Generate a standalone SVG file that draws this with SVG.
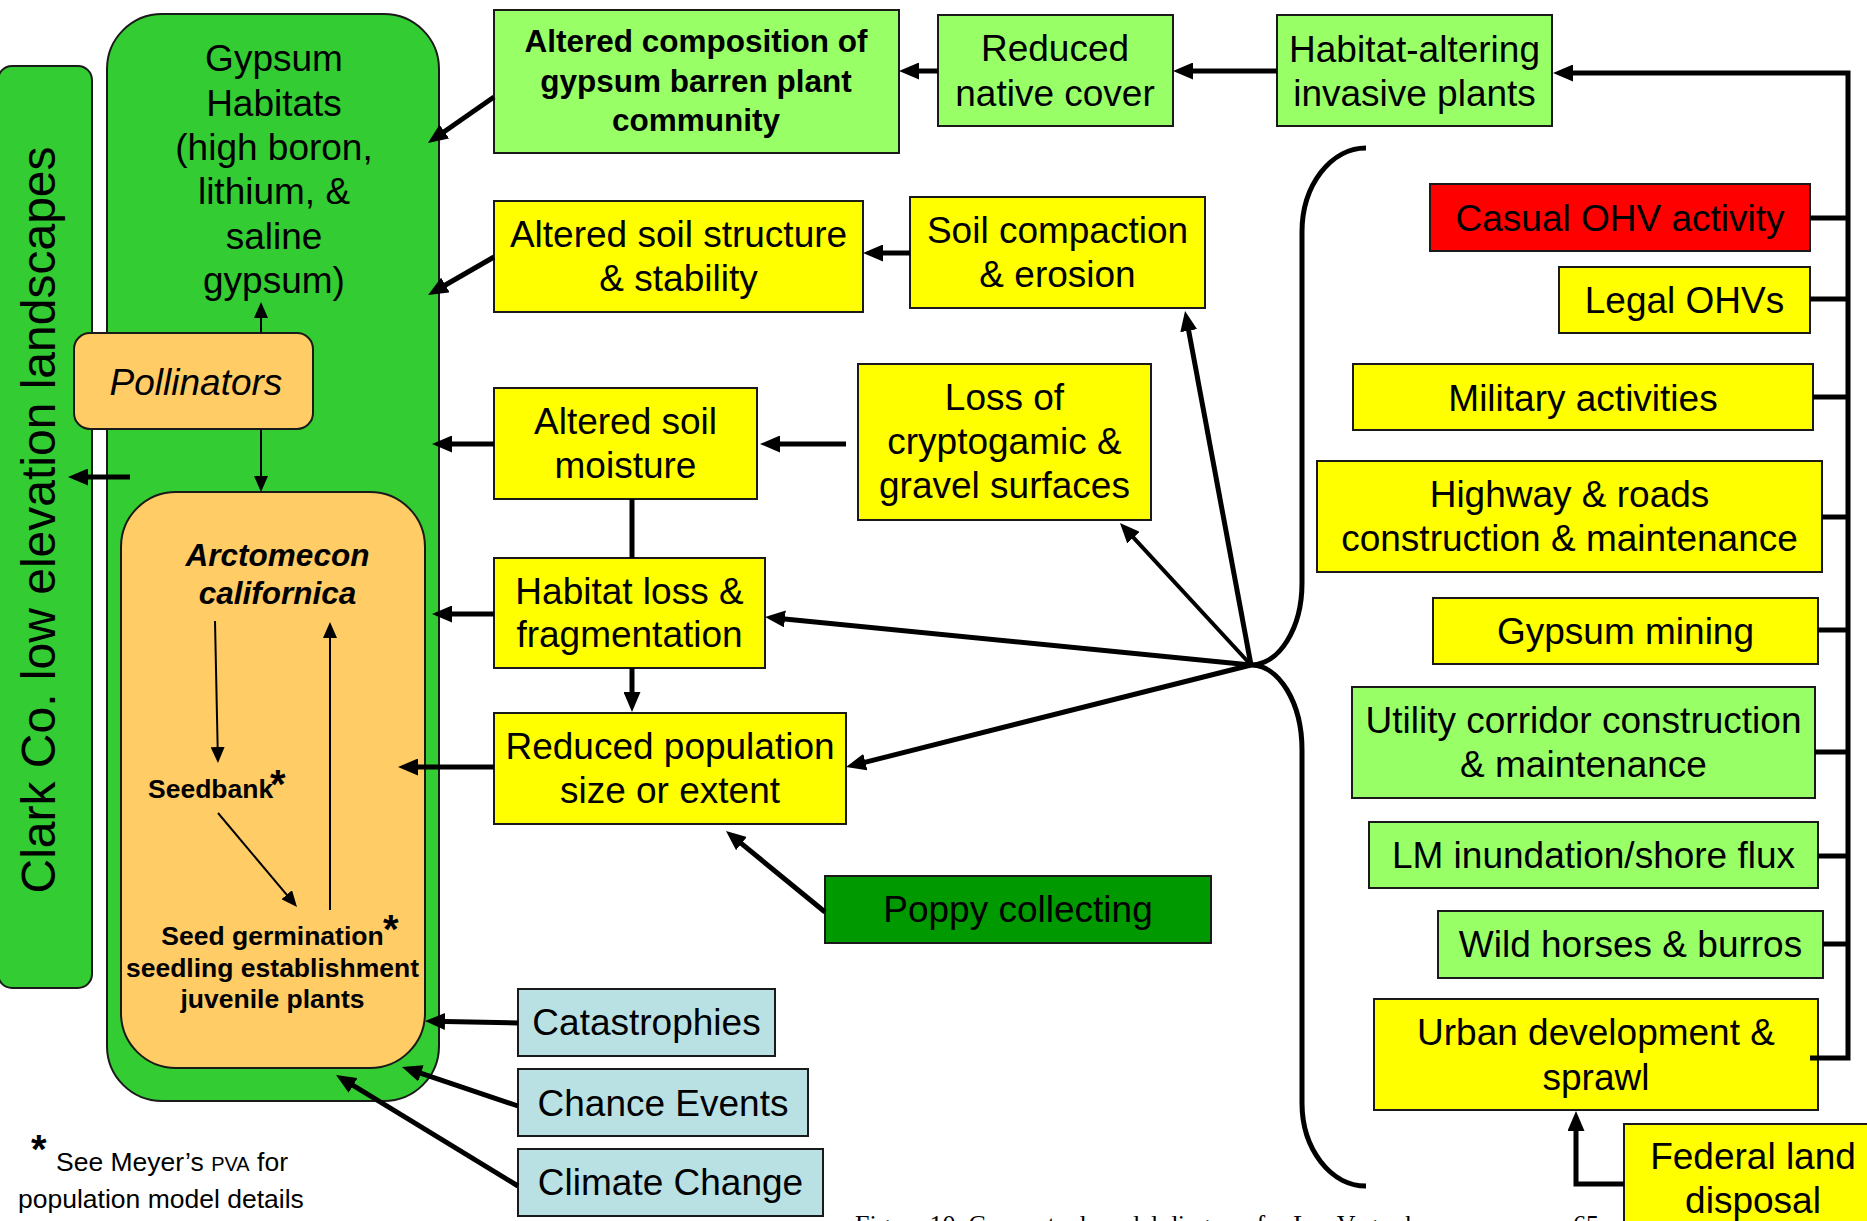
<svg xmlns="http://www.w3.org/2000/svg" width="1867" height="1221" viewBox="0 0 1867 1221">
<defs>
<style>
.n{stroke:#1a1a1a;stroke-width:2}
.yl{fill:#ffff00}.lg{fill:#99ff66}.rd{fill:#ff0000}.dg{fill:#009900}.bl{fill:#b9e1e4}.or{fill:#ffcc66}.gr{fill:#33cc33}
text{font-family:"Liberation Sans",Arial,sans-serif;fill:#000}
.t{font-size:37px;text-anchor:middle}
.b{font-size:31.5px;font-weight:bold;text-anchor:middle}
.s{font-size:26.5px;font-weight:bold}
.c{stroke:#000;stroke-width:5;fill:none}
.c2{stroke:#000;stroke-width:2;fill:none}
.ah{marker-end:url(#ah)}
.as{marker-end:url(#as)}
</style>
<marker id="ah" viewBox="0 0 20 17" refX="13" refY="8.5" markerWidth="20" markerHeight="17" orient="auto" markerUnits="userSpaceOnUse"><path d="M0,0 L20,8.5 L0,17 z" fill="#000"/></marker>
<marker id="as" viewBox="0 0 16 14" refX="12" refY="7" markerWidth="16" markerHeight="14" orient="auto" markerUnits="userSpaceOnUse"><path d="M0,0 L16,7 L0,14 z" fill="#000"/></marker>
</defs>
<rect width="1867" height="1221" fill="#fff"/>

<g id="clark">
<rect class="n gr" x="-2" y="66" width="94" height="922" rx="14"/>
<text transform="translate(55,520) rotate(-90)" font-size="48" text-anchor="middle">Clark Co. low elevation landscapes</text>
</g>
<g id="gypsum">
<rect class="n gr" x="107" y="14" width="332" height="1087" rx="55"/>
<text class="t" x="274" y="71">Gypsum</text>
<text class="t" x="274" y="115.5">Habitats</text>
<text class="t" x="274" y="160">(high boron,</text>
<text class="t" x="274" y="204">lithium, &amp;</text>
<text class="t" x="274" y="249">saline</text>
<text class="t" x="274" y="293">gypsum)</text>
</g>
<g id="pollinators">
<rect class="n or" x="74" y="333" width="239" height="96" rx="16"/>
<text class="t" x="196" y="395" font-style="italic">Pollinators</text>
</g>
<g id="arctomecon">
<rect class="n or" x="121" y="492" width="304" height="576" rx="55"/>
<text x="277.5" y="566" font-size="31.5" font-weight="bold" font-style="italic" text-anchor="middle">Arctomecon</text>
<text x="277.5" y="604" font-size="31.5" font-weight="bold" font-style="italic" text-anchor="middle">californica</text>
</g>
<g id="seedbank">
<text class="s" x="148" y="798">Seedbank</text>
<text x="270" y="798" font-size="40" font-weight="bold">*</text>
</g>
<g id="germination">
<text class="s" x="272.5" y="945" text-anchor="middle">Seed germination</text>
<text x="383" y="943" font-size="40" font-weight="bold">*</text>
<text class="s" x="272.5" y="977" text-anchor="middle">seedling establishment</text>
<text class="s" x="272.5" y="1008" text-anchor="middle">juvenile plants</text>
</g>

<g id="altered-composition">
<rect class="n lg" x="494" y="10" width="405" height="143"/>
<text class="b" x="696" y="52">Altered composition of</text>
<text class="b" x="696" y="92">gypsum barren plant</text>
<text class="b" x="696" y="131">community</text>
</g>
<g id="reduced-native">
<rect class="n lg" x="938" y="15" width="235" height="111"/>
<text class="t" x="1055" y="61">Reduced</text>
<text class="t" x="1055" y="106">native cover</text>
</g>
<g id="habitat-altering">
<rect class="n lg" x="1277" y="15" width="275" height="111"/>
<text class="t" x="1414.5" y="62">Habitat-altering</text>
<text class="t" x="1414.5" y="106">invasive plants</text>
</g>
<g id="altered-soil-structure">
<rect class="n yl" x="494" y="201" width="369" height="111"/>
<text class="t" x="678.5" y="247">Altered soil structure</text>
<text class="t" x="678.5" y="291">&amp; stability</text>
</g>
<g id="soil-compaction">
<rect class="n yl" x="910" y="197" width="295" height="111"/>
<text class="t" x="1057.5" y="243">Soil compaction</text>
<text class="t" x="1057.5" y="287">&amp; erosion</text>
</g>
<g id="altered-soil-moisture">
<rect class="n yl" x="494" y="388" width="263" height="111"/>
<text class="t" x="625.5" y="434">Altered soil</text>
<text class="t" x="625.5" y="478">moisture</text>
</g>
<g id="loss-cryptogamic">
<rect class="n yl" x="858" y="364" width="293" height="156"/>
<text class="t" x="1004.5" y="410">Loss of</text>
<text class="t" x="1004.5" y="454">cryptogamic &amp;</text>
<text class="t" x="1004.5" y="498">gravel surfaces</text>
</g>
<g id="habitat-loss">
<rect class="n yl" x="494" y="558" width="271" height="110"/>
<text class="t" x="629.5" y="604">Habitat loss &amp;</text>
<text class="t" x="629.5" y="647">fragmentation</text>
</g>
<g id="reduced-population">
<rect class="n yl" x="494" y="713" width="352" height="111"/>
<text class="t" x="670" y="759">Reduced population</text>
<text class="t" x="670" y="803">size or extent</text>
</g>
<g id="poppy-collecting">
<rect class="n dg" x="825" y="876" width="386" height="67"/>
<text class="t" x="1018" y="922">Poppy collecting</text>
</g>
<g id="catastrophies">
<rect class="n bl" x="518" y="989" width="257" height="67"/>
<text class="t" x="646.5" y="1035">Catastrophies</text>
</g>
<g id="chance-events">
<rect class="n bl" x="518" y="1069" width="290" height="67"/>
<text class="t" x="663" y="1116">Chance Events</text>
</g>
<g id="climate-change">
<rect class="n bl" x="518" y="1149" width="305" height="67"/>
<text class="t" x="670.5" y="1195">Climate Change</text>
</g>

<g id="casual-ohv">
<rect class="n rd" x="1430" y="184" width="380" height="67"/>
<text class="t" x="1620" y="231">Casual OHV activity</text>
</g>
<g id="legal-ohvs">
<rect class="n yl" x="1559" y="267" width="251" height="66"/>
<text class="t" x="1684.5" y="313">Legal OHVs</text>
</g>
<g id="military">
<rect class="n yl" x="1353" y="364" width="460" height="66"/>
<text class="t" x="1583" y="411">Military activities</text>
</g>
<g id="highway">
<rect class="n yl" x="1317" y="461" width="505" height="111"/>
<text class="t" x="1569.5" y="507">Highway &amp; roads</text>
<text class="t" x="1569.5" y="551">construction &amp; maintenance</text>
</g>
<g id="gypsum-mining">
<rect class="n yl" x="1433" y="598" width="385" height="66"/>
<text class="t" x="1625.5" y="644">Gypsum mining</text>
</g>
<g id="utility">
<rect class="n lg" x="1352" y="687" width="463" height="111"/>
<text class="t" x="1583.5" y="733">Utility corridor construction</text>
<text class="t" x="1583.5" y="777">&amp; maintenance</text>
</g>
<g id="lm-inundation">
<rect class="n lg" x="1369" y="822" width="449" height="66"/>
<text class="t" x="1593.5" y="868">LM inundation/shore flux</text>
</g>
<g id="wild-horses">
<rect class="n lg" x="1438" y="911" width="385" height="67"/>
<text class="t" x="1630.5" y="957">Wild horses &amp; burros</text>
</g>
<g id="urban">
<rect class="n yl" x="1374" y="999" width="444" height="111"/>
<text class="t" x="1596" y="1045">Urban development &amp;</text>
<text class="t" x="1596" y="1090">sprawl</text>
</g>
<g id="federal-land">
<rect class="n yl" x="1624" y="1124" width="258" height="120"/>
<text class="t" x="1753" y="1169">Federal land</text>
<text class="t" x="1753" y="1213">disposal</text>
</g>

<g id="connectors">
<path class="c2 as" d="M261,333 V306"/>
<path class="c2 as" d="M261,429 V488"/>
<path class="c2 as" d="M215,621 L217.9,759"/>
<path class="c2 as" d="M218,813 L294.4,903.9"/>
<path class="c2 as" d="M330,910 V626"/>
<path class="c ah" d="M130,477 H75"/>
<path class="c ah" d="M494,97 L433.7,139"/>
<path class="c ah" d="M494,257 L434.1,291.5"/>
<path class="c ah" d="M494,444 H439"/>
<path class="c ah" d="M494,614 H439"/>
<path class="c ah" d="M494,767 H405"/>
<path class="c ah" d="M518,1023 L432,1021.2"/>
<path class="c ah" d="M518,1106 L408.6,1069.2"/>
<path class="c ah" d="M518,1186 L342,1078.6"/>
<path class="c ah" d="M938,71 H906"/>
<path class="c ah" d="M1277,71 H1180"/>
<path class="c ah" d="M910,253 H870"/>
<path class="c ah" d="M846,444 H767"/>
<path class="c" d="M632,499 V558"/>
<path class="c ah" d="M632,668 V705"/>
<path class="c ah" d="M1251,665 L1186.3,317.9"/>
<path class="c ah" d="M1251,665 L1124.7,528.1" style="stroke-width:4"/>
<path class="c ah" d="M1251,665 L772,617.7"/>
<path class="c ah" d="M1251,665 L852.8,765.3"/>
<path class="c ah" d="M825,912 L731.4,835.4"/>
<path class="c" d="M1366,148 A64,84 0 0 0 1302,232 V583 A51,82 0 0 1 1251,665 A51,85 0 0 1 1302,750 V1103 A64,83 0 0 0 1366,1186"/>
<path class="c ah" d="M1810,1058 H1848 V73 H1560"/>
<path class="c" d="M1810,218 H1848 M1810,299 H1848 M1813,397 H1848 M1822,517 H1848 M1818,630 H1848 M1815,752 H1848 M1818,856 H1848 M1823,944 H1848"/>
<path class="c ah" d="M1624,1184 H1576 V1118"/>
</g>

<g id="footnote">
<text x="31" y="1163" font-size="40" font-weight="bold">*</text>
<text x="56" y="1171" font-size="26.5">See Meyer’s <tspan font-size="20">PVA</tspan> for</text>
<text x="18" y="1208" font-size="26.5">population model details</text>
</g>
<g id="caption">
<text x="855" y="1233" font-size="26" style="font-family:'Liberation Serif','Times New Roman',serif">Figure 10.  Conceptual model diagram for Las Vegas bearpoppy</text>
<text x="1573" y="1233" font-size="26" style="font-family:'Liberation Serif','Times New Roman',serif">65</text>
</g>
</svg>
